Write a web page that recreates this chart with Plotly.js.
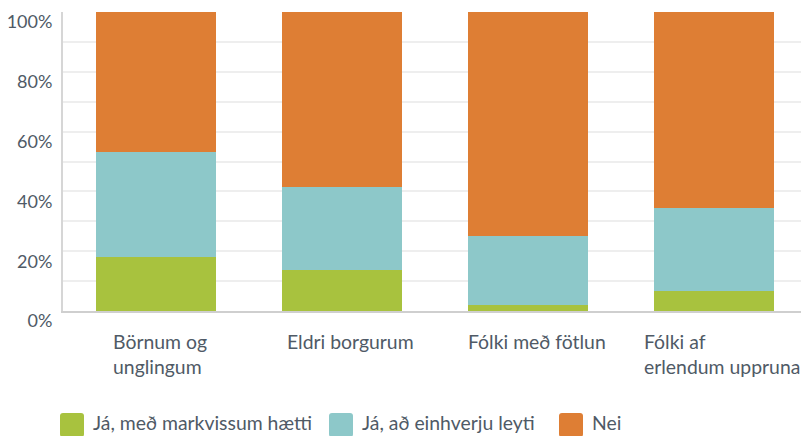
<!DOCTYPE html>
<html>
<head>
<meta charset="utf-8">
<script src="https://cdn.plot.ly/plotly-3.0.1.min.js"></script>
<style>
html,body{margin:0;padding:0;background:#fff;}
#chart{width:801px;height:436px;}
</style>
</head>
<body>
<div id="chart"></div>
<script>
// ---- data ----
var categories = ["Börnum og<br>unglingum", "Eldri borgurum", "Fólki með fötlun", "Fólki af<br>erlendum uppruna"];
var seriesNames = ["Já, með markvissum hætti", "Já, að einhverju leyti", "Nei"];
var jaMarkvisst = [0.18, 0.137, 0.019, 0.066];
var jaEinhverju = [0.352, 0.277, 0.232, 0.279];
var nei = [0.468, 0.586, 0.749, 0.655];
var yTickVals = [0, 0.2, 0.4, 0.6, 0.8, 1.0];
var yTickText = ["0%", "20%", "40%", "60%", "80%", "100%"];

// ---- style ----
var colors = ["#A8C23E", "#8DC8C9", "#DE7E34"];
var fontFamily = "Lato, 'Open Sans', sans-serif";
var textColor = "#4f5a66";
var labelShift = [4, 8, 9, 8];
var W = 801, H = 436;
var M = {l: 63, r: 0, t: 12, b: 125};
var plotW = W - M.l - M.r, plotH = H - M.t - M.b;
function px2paperX(px){ return (px - M.l) / plotW; }
function px2paperY(py){ return (H - M.b - py) / plotH; }

var seriesValues = [jaMarkvisst, jaEinhverju, nei];
var xIdx = categories.map(function(_, i){ return i; });
var traces = seriesValues.map(function(vals, k){
  return {
    type: "bar",
    x: xIdx,
    y: vals,
    name: seriesNames[k],
    marker: {color: colors[k], line: {width: 0}},
    hoverinfo: "skip",
    showlegend: false
  };
});

// category labels as annotations (left-aligned lines)
var annotations = categories.map(function(c, i){
  return {
    x: i, xref: "x", xshift: labelShift[i],
    y: px2paperY(328), yref: "paper",
    xanchor: "center", yanchor: "top",
    text: c, align: "left", showarrow: false,
    font: {family: fontFamily, size: 19.4, color: textColor}
  };
});

// custom legend
var legendX = [60, 329, 559];
var legendTop = 413, sw = 24;
var shapes = [];
seriesNames.forEach(function(n, k){
  var x0 = legendX[k];
  var r = 3;
  var p = "M" + r + ",0 L" + (sw - r) + ",0 Q" + sw + ",0 " + sw + "," + (-r) +
          " L" + sw + "," + (-(sw - r)) + " Q" + sw + "," + (-sw) + " " + (sw - r) + "," + (-sw) +
          " L" + r + "," + (-sw) + " Q0," + (-sw) + " 0," + (-(sw - r)) +
          " L0," + (-r) + " Q0,0 " + r + ",0 Z";
  shapes.push({
    type: "path", xref: "paper", yref: "paper",
    xsizemode: "pixel", ysizemode: "pixel",
    xanchor: px2paperX(x0), yanchor: px2paperY(legendTop),
    path: p, fillcolor: colors[k], line: {width: 0}
  });
  annotations.push({
    x: px2paperX(x0 + sw + 8), xref: "paper", xanchor: "left",
    y: px2paperY(435), yref: "paper", yanchor: "bottom",
    text: n, showarrow: false, borderpad: 0,
    font: {family: fontFamily, size: 19.4, color: textColor}
  });
});

var layout = {
  width: W, height: H,
  margin: M,
  paper_bgcolor: "#fff", plot_bgcolor: "#fff",
  barmode: "stack",
  bargap: 0.36,
  showlegend: false,
  xaxis: {
    type: "linear",
    range: [-0.5, -0.5 + plotW / 186],
    showticklabels: false, ticks: "",
    showgrid: false, zeroline: false,
    showline: true, linecolor: "#cfcfcf", linewidth: 2
  },
  yaxis: {
    range: [0, 1],
    tickvals: yTickVals, ticktext: yTickText,
    ticks: "", showline: true, linecolor: "#d6d6d6", linewidth: 2,
    gridcolor: "#eeeeee", gridwidth: 2, zeroline: false,
    minor: {dtick: 0.1, showgrid: true, gridcolor: "#eeeeee", gridwidth: 2, ticks: ""},
    ticklabelshift: 10, ticklabelstandoff: 5,
    tickfont: {family: fontFamily, size: 18, color: textColor}
  },
  annotations: annotations,
  shapes: shapes
};

Plotly.newPlot("chart", traces, layout, {displayModeBar: false, staticPlot: true});
</script>
</body>
</html>
